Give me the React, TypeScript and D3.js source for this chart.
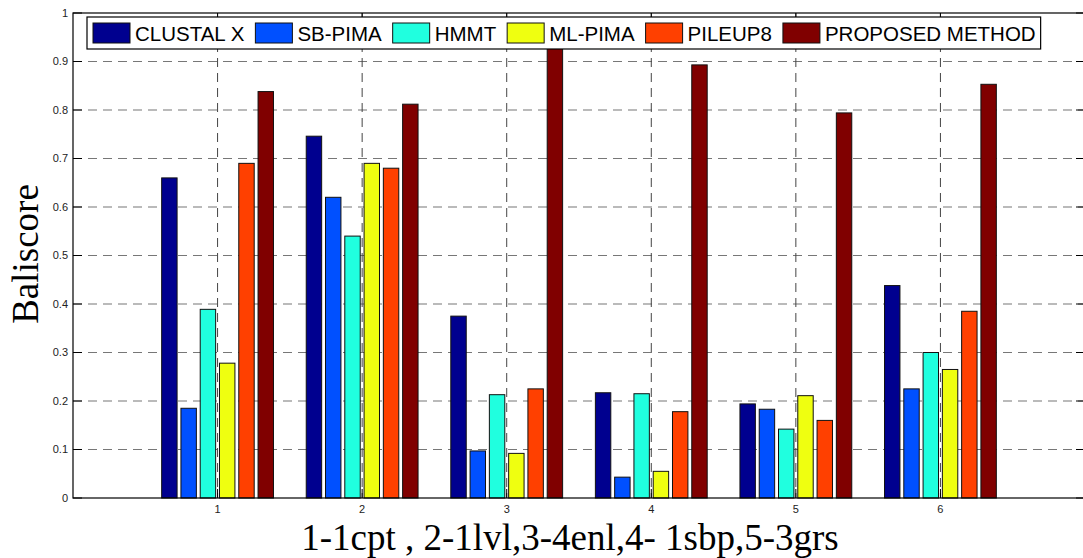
import React, { useEffect, useRef } from 'react';
import * as d3 from 'd3';

const categories = ['1', '2', '3', '4', '5', '6'];
const seriesNames = ['CLUSTAL X', 'SB-PIMA', 'HMMT', 'ML-PIMA', 'PILEUP8', 'PROPOSED METHOD'];
const clustalX = [0.66, 0.746, 0.375, 0.217, 0.194, 0.438];
const sbPima = [0.185, 0.62, 0.097, 0.043, 0.183, 0.225];
const hmmt = [0.389, 0.54, 0.213, 0.215, 0.142, 0.3];
const mlPima = [0.278, 0.69, 0.092, 0.055, 0.211, 0.265];
const pileup8 = [0.69, 0.68, 0.225, 0.178, 0.16, 0.385];
const proposed = [0.838, 0.812, 0.94, 0.893, 0.794, 0.853];
const yTicks = [0, 0.1, 0.2, 0.3, 0.4, 0.5, 0.6, 0.7, 0.8, 0.9, 1];
const yTickLabels = ['0', '0.1', '0.2', '0.3', '0.4', '0.5', '0.6', '0.7', '0.8', '0.9', '1'];
const colors = ['#00008f', '#0050ff', '#20ffdf', '#efff10', '#ff4000', '#800000'];

const W = 1083;
const H = 558;

const App: React.FC = () => {
  const svgRef = useRef<SVGSVGElement | null>(null);

  useEffect(() => {
    if (!svgRef.current) return;
    const svg = d3.select(svgRef.current);
    svg.selectAll('*').remove();

    const left = 73;
    const right = 1085;
    const top = 13;
    const bottom = 498;

    const series = [clustalX, sbPima, hmmt, mlPima, pileup8, proposed];

    const x = d3.scaleLinear().domain([0, 7]).range([left, right]);
    const y = d3.scaleLinear().domain([0, 1]).range([bottom, top]);
    const step = x(1) - x(0);
    const inner = d3.scaleBand<number>()
      .domain(d3.range(series.length))
      .range([-0.3867 * step, 0.3867 * step])
      .paddingInner(0.2)
      .paddingOuter(0);

    const sans = 'Liberation Sans, Arial, Helvetica, sans-serif';
    const serif = 'Liberation Serif, Times New Roman, serif';

    // grid
    const grid = svg.append('g');
    grid.selectAll('line.h')
      .data(yTicks.filter(t => t > 0 && t < 1))
      .enter().append('line')
      .attr('x1', left).attr('x2', right)
      .attr('y1', d => y(d)).attr('y2', d => y(d))
      .attr('stroke', '#777').attr('stroke-width', 1.2)
      .attr('stroke-dasharray', '9,6');
    grid.selectAll('line.v')
      .data(categories)
      .enter().append('line')
      .attr('x1', (d, i) => x(i + 1)).attr('x2', (d, i) => x(i + 1))
      .attr('y1', top).attr('y2', bottom)
      .attr('stroke', '#444').attr('stroke-width', 1)
      .attr('stroke-dasharray', '9,6');

    // bars
    series.forEach((vals, j) => {
      svg.append('g').selectAll('rect')
        .data(vals)
        .enter().append('rect')
        .attr('x', (d, i) => x(i + 1) + (inner(j) || 0))
        .attr('y', d => y(d))
        .attr('width', inner.bandwidth())
        .attr('height', d => bottom - y(d))
        .attr('fill', colors[j])
        .attr('stroke', '#111')
        .attr('stroke-width', 1);
    });

    // axes box
    svg.append('rect')
      .attr('x', left).attr('y', top)
      .attr('width', right - left).attr('height', bottom - top)
      .attr('fill', 'none').attr('stroke', '#000').attr('stroke-width', 1.2);

    const tl = 9;
    const ticks = svg.append('g').attr('stroke', '#000').attr('stroke-width', 1);
    yTicks.forEach(t => {
      ticks.append('line').attr('x1', left).attr('x2', left + tl).attr('y1', y(t)).attr('y2', y(t));
      ticks.append('line').attr('x1', right - tl).attr('x2', right).attr('y1', y(t)).attr('y2', y(t));
    });
    categories.forEach((c, i) => {
      ticks.append('line').attr('x1', x(i + 1)).attr('x2', x(i + 1)).attr('y1', bottom).attr('y2', bottom - tl);
      ticks.append('line').attr('x1', x(i + 1)).attr('x2', x(i + 1)).attr('y1', top).attr('y2', top + tl);
    });

    // tick labels
    svg.append('g').selectAll('text')
      .data(yTicks)
      .enter().append('text')
      .attr('x', left - 5)
      .attr('y', d => y(d))
      .attr('dy', '0.35em')
      .attr('text-anchor', 'end')
      .attr('font-family', sans)
      .attr('font-size', 11)
      .attr('fill', '#222')
      .text((d, i) => yTickLabels[i]);

    svg.append('g').selectAll('text')
      .data(categories)
      .enter().append('text')
      .attr('x', (d, i) => x(i + 1))
      .attr('y', bottom + 15)
      .attr('text-anchor', 'middle')
      .attr('font-family', sans)
      .attr('font-size', 11)
      .attr('fill', '#222')
      .text(d => d);

    // axis titles
    svg.append('text')
      .attr('x', 570).attr('y', 550)
      .attr('text-anchor', 'middle')
      .attr('font-family', serif)
      .attr('font-size', 37)
      .text('1-1cpt , 2-1lvl,3-4enl,4- 1sbp,5-3grs');

    svg.append('text')
      .attr('transform', 'translate(38,254) rotate(-90)')
      .attr('text-anchor', 'middle')
      .attr('font-family', serif)
      .attr('font-size', 37)
      .text('Baliscore');

    // legend
    const legend = svg.append('g');
    const box = legend.append('rect')
      .attr('x', 87).attr('y', 17).attr('height', 32)
      .attr('fill', '#fff').attr('stroke', '#000').attr('stroke-width', 1.2);
    const gap = 11;
    let cx = 93;
    seriesNames.forEach((name, j) => {
      legend.append('rect')
        .attr('x', cx).attr('y', 23).attr('width', 37).attr('height', 20)
        .attr('fill', colors[j]).attr('stroke', '#111').attr('stroke-width', 1);
      const t = legend.append('text')
        .attr('x', cx + 42).attr('y', 41)
        .attr('font-family', sans)
        .attr('font-size', 20.5)
        .text(name);
      const w = (t.node() as SVGTextElement).getComputedTextLength();
      cx = cx + 42 + w + gap;
    });
    box.attr('width', cx - gap + 5 - 87);
  }, []);

  return (
    <svg
      ref={svgRef}
      width={W}
      height={H}
      style={{ position: 'absolute', left: 0, top: 0, background: '#fff' }}
    />
  );
};

export default App;
